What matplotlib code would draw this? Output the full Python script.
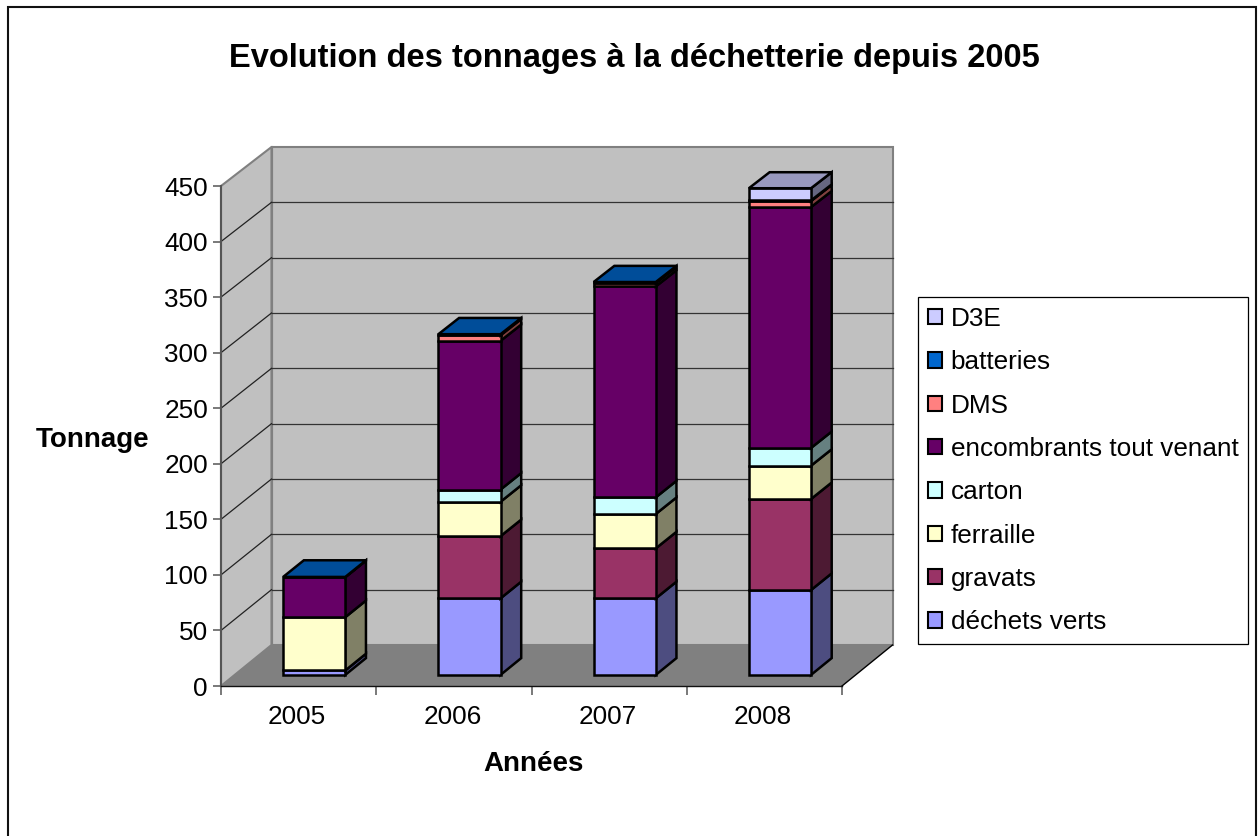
import matplotlib
matplotlib.use("Agg")
import matplotlib.pyplot as plt
from matplotlib.colors import to_rgb
from matplotlib.patches import Patch, Polygon, Rectangle

plt.rcParams['font.family'] = ['Liberation Sans', 'DejaVu Sans']

# values (tonnes)
years = ['2005', '2006', '2007', '2008']
dechets_verts = [4, 69, 69, 76.5]
gravats = [0, 56, 45, 82]
ferraille = [48, 31, 31, 30]
carton = [0, 11, 15, 16]
encombrants = [36, 134, 190, 217]
dms = [0, 5, 3, 5.5]
batteries = [0.3, 1, 1, 0.5]
d3e = [0, 0, 0, 11]

series_names = ['déchets verts', 'gravats', 'ferraille', 'carton',
                'encombrants tout venant', 'DMS', 'batteries', 'D3E']
series_values = [dechets_verts, gravats, ferraille, carton,
                 encombrants, dms, batteries, d3e]
series_colors = ['#9999FF', '#993366', '#FFFFCC', '#CCFFFF',
                 '#660066', '#FF8080', '#0066CC', '#CCCCFF']
y_ticks = list(range(0, 451, 50))

W, H = 1260, 836

# fake 3d: depth d runs 0..1 from the front plane to the back wall
DEPTH_X = 50.5 / 155.25   # in category units
DEPTH_Y = 41 / (500 / 450)   # in tonnes


def proj(x, y, d):
    # back wall is a touch shorter than the front plane
    return (x + d * DEPTH_X, y * (1 - 0.004 * d) + d * DEPTH_Y)


def shade(color, k):
    return tuple(c * k for c in to_rgb(color))


def quad(ax, pts, face, edge='black', lw=1.8, z=3):
    ax.add_patch(Polygon(pts, closed=True, facecolor=face, edgecolor=edge,
                         linewidth=lw, zorder=z, clip_on=False, joinstyle='miter'))


fig = plt.figure(figsize=(W / 100, H / 100), dpi=100, facecolor='white')
# outer chart border, its bottom edge falls outside the picture
fig.add_artist(Rectangle((7.5 / W, -10 / H), 1248.5 / W, (828.5 + 10) / H, transform=fig.transFigure,
                         facecolor='white', edgecolor='#111111', linewidth=1.5, zorder=-1))

ax = fig.add_axes([221 / W, 1 - 686 / H, 621 / W, 500 / H])
ax.set_xlim(0, 4)
ax.set_ylim(0, 450)
ax.patch.set_visible(False)

# walls and floor
wall_grey = '#C0C0C0'
edge_grey = '#808080'
quad(ax, [proj(0, 0, 1), proj(4, 0, 1), proj(4, 450, 1), proj(0, 450, 1)], wall_grey, edge_grey, 1.5, 1)
quad(ax, [proj(0, 0, 0), proj(0, 0, 1), proj(0, 450, 1), proj(0, 450, 0)], wall_grey, edge_grey, 1.5, 1)
quad(ax, [proj(0, 0, 0), proj(4, 0, 0), proj(4, 0, 1), proj(0, 0, 1)], '#808080', 'none', 0, 1.1)
ax.plot(*zip(proj(4, 0, 0), proj(4, 0, 1)), color='black', lw=1, zorder=1.2, clip_on=False)
ax.plot(*zip(proj(0, 0, 1), proj(0, 450, 1)), color=edge_grey, lw=1.5, zorder=1.2, clip_on=False)

for v in y_ticks[1:]:
    if v < 450:
        ax.plot(*zip(proj(0, v, 1), proj(4, v, 1)), color='#333333', lw=0.9, zorder=2, clip_on=False)
        ax.plot(*zip(proj(0, v, 0), proj(0, v, 1)), color='#222222', lw=0.9, zorder=2, clip_on=False)

# stacked columns
BAR_LEFT = 0.3125
BAR_W = 0.4
D0, D1 = 0.27, 0.68
for i in range(len(years)):
    x0, x1 = i + BAR_LEFT, i + BAR_LEFT + BAR_W
    bottom = 0
    top_color = None
    for vals, col in zip(series_values, series_colors):
        v = vals[i]
        if v <= 0:
            continue
        top = bottom + v
        quad(ax, [proj(x1, bottom, D0), proj(x1, bottom, D1), proj(x1, top, D1), proj(x1, top, D0)], shade(col, 0.5))
        quad(ax, [proj(x0, bottom, D0), proj(x1, bottom, D0), proj(x1, top, D0), proj(x0, top, D0)], col)
        bottom = top
        top_color = col
    quad(ax, [proj(x0, bottom, D0), proj(x1, bottom, D0), proj(x1, bottom, D1), proj(x0, bottom, D1)],
         shade(top_color, 0.75))

# axes
for side in ['top', 'right']:
    ax.spines[side].set_visible(False)
ax.spines['left'].set_color('#555555')
ax.spines['left'].set_linewidth(1.5)
ax.spines['left'].set_zorder(2.5)
ax.spines['bottom'].set_color('#111111')
ax.spines['bottom'].set_linewidth(1.0)
ax.spines['bottom'].set_zorder(2.5)
ax.set_yticks(y_ticks)
ax.set_xticks(range(5))
ax.set_xticklabels([])
ax.set_xticks([i + 0.49 for i in range(4)], labels=years, minor=True)
ax.tick_params(axis='y', labelsize=18.8, length=5.8, width=1.1, color='#555555', pad=3.6)
ax.tick_params(axis='x', which='major', length=6.5, width=1.1, color='#555555')
ax.tick_params(axis='x', which='minor', length=0, labelsize=18.8, pad=14)

ax.set_xlabel('Années', fontsize=20, fontweight='bold')
ax.xaxis.set_label_coords((533 - 221) / 621, (686 - 764) / 500)
ax.xaxis.label.set_va('center')
ax.set_ylabel('Tonnage', fontsize=20, fontweight='bold', rotation=0, ha='center', va='center')
ax.yaxis.set_label_coords((93 - 221) / 621, (686 - 440) / 500)

fig.text(634 / W, 1 - 58 / H, 'Evolution des tonnages à la déchetterie depuis 2005',
         fontsize=23.5, fontweight='bold', ha='center', va='center')

# legend goes top to bottom in reverse order, like the Excel one
handles = [Patch(facecolor=c, edgecolor='black', linewidth=1.5, label=n)
           for n, c in zip(series_names, series_colors)][::-1]
leg = fig.legend(handles=handles, loc='upper left', bbox_to_anchor=(918 / W, 1 - 297 / H),
                 fontsize=18.8, frameon=True, fancybox=False, framealpha=1, edgecolor='black',
                 borderaxespad=0, borderpad=0.38, labelspacing=0.74, handlelength=0.53,
                 handleheight=0.53, handletextpad=0.34)
leg.get_frame().set_linewidth(0.9)

fig.savefig('out.png', dpi=100)
